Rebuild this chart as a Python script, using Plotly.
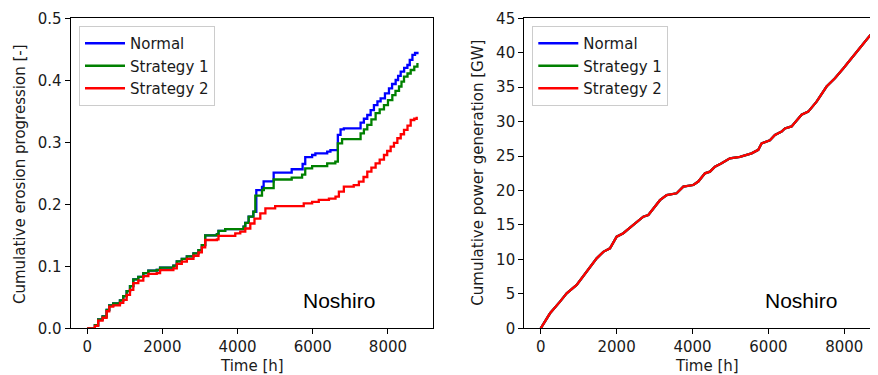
import plotly.graph_objects as go

# ---------------- data: cumulative erosion progression (left) ----------------
t_normal = [0, 205, 293, 410, 517, 587, 693, 872, 960, 1050, 1139, 1227, 1360, 1493, 1627,
            1850, 1939, 2293, 2384, 2517, 2651, 2827, 2960, 3050, 3139, 3451, 3493, 3670,
            4160, 4205, 4295, 4420, 4499, 4650, 4693, 4960, 5440, 5730, 5800, 5983, 6070,
            6384, 6470, 6667, 6739, 6827, 7272, 7360, 7450, 7540, 7627, 7720, 7805, 7920,
            8027, 8110, 8205, 8270, 8339, 8430, 8517, 8580, 8651, 8720, 8784]
v_normal = [0, 0.005, 0.0145, 0.019, 0.0295, 0.037, 0.040, 0.045, 0.052, 0.060, 0.068, 0.079,
            0.083, 0.089, 0.093, 0.094, 0.098, 0.101, 0.108, 0.112, 0.116, 0.121, 0.126, 0.134,
            0.150, 0.152, 0.157, 0.160, 0.164, 0.170, 0.180, 0.188, 0.223, 0.228, 0.237, 0.251,
            0.2565, 0.265, 0.276, 0.2795, 0.282, 0.285, 0.2875, 0.312, 0.321, 0.3226, 0.3317,
            0.338, 0.344, 0.352, 0.360, 0.366, 0.371, 0.379, 0.387, 0.394, 0.4005, 0.407, 0.414,
            0.420, 0.4247, 0.433, 0.441, 0.444, 0.446]

t_strat1 = [0, 205, 293, 410, 517, 587, 693, 872, 960, 1050, 1139, 1227, 1360, 1493, 1627,
            1850, 1939, 2293, 2384, 2517, 2651, 2827, 2960, 3050, 3139, 3451, 3493, 3670,
            4160, 4205, 4295, 4420, 4472, 4650, 4700, 4960, 5440, 5716, 5800, 5983, 6384,
            6600, 6667, 6780, 7272, 7360, 7450, 7560, 7672, 7780, 7894, 8000, 8116, 8200,
            8294, 8360, 8427, 8520, 8605, 8700, 8784]
v_strat1 = [0, 0.005, 0.0145, 0.019, 0.0295, 0.037, 0.040, 0.045, 0.052, 0.060, 0.068, 0.079,
            0.083, 0.089, 0.093, 0.094, 0.098, 0.101, 0.108, 0.112, 0.116, 0.121, 0.126, 0.134,
            0.150, 0.152, 0.157, 0.160, 0.164, 0.170, 0.180, 0.188, 0.214, 0.223, 0.226, 0.240,
            0.243, 0.248, 0.258, 0.2615, 0.266, 0.2687, 0.2984, 0.305, 0.3145, 0.321, 0.328,
            0.337, 0.347, 0.353, 0.360, 0.368, 0.376, 0.383, 0.390, 0.398, 0.406, 0.411, 0.4166,
            0.422, 0.428]

t_strat2 = [0, 205, 293, 410, 517, 587, 693, 872, 960, 1050, 1139, 1227, 1360, 1493, 1627,
            1850, 1939, 2293, 2384, 2517, 2651, 2827, 2960, 3050, 3139, 3451, 3493, 3939,
            4072, 4205, 4339, 4450, 4605, 4740, 5000, 5760, 5983, 6160, 6430, 6605, 6695,
            6827, 7090, 7227, 7350, 7450, 7560, 7672, 7780, 7894, 7980, 8072, 8160, 8250,
            8340, 8427, 8520, 8605, 8700, 8765]
v_strat2 = [0, 0.004, 0.0125, 0.017, 0.0275, 0.035, 0.037, 0.041, 0.046, 0.054, 0.062, 0.073,
            0.077, 0.084, 0.0877, 0.089, 0.0937, 0.0967, 0.104, 0.1075, 0.112, 0.117, 0.1225,
            0.1306, 0.1424, 0.1435, 0.149, 0.153, 0.156, 0.161, 0.169, 0.177, 0.1855, 0.1935,
            0.197, 0.2016, 0.204, 0.207, 0.209, 0.2123, 0.2203, 0.2284, 0.231, 0.2365, 0.244,
            0.2526, 0.259, 0.266, 0.272, 0.2795, 0.286, 0.293, 0.299, 0.3065, 0.313, 0.320,
            0.327, 0.336, 0.338, 0.3413]

# ---------------- data: cumulative power generation (right) ----------------
t_power = [0, 246, 509, 685, 948, 1212, 1475, 1650, 1826, 2002, 2177, 2441, 2704, 2836, 2968,
           3143, 3319, 3582, 3758, 4021, 4153, 4328, 4460, 4592, 4767, 4987, 5250, 5558, 5733,
           5821, 6040, 6172, 6348, 6435, 6611, 6874, 7050, 7270, 7533, 7753, 7972, 8148, 8367,
           8543, 8762]
p_power = [0, 2.18, 3.87, 5.08, 6.29, 8.2, 10.16, 11.1, 11.6, 13.3, 13.8, 15.0, 16.2, 16.45,
           17.4, 18.6, 19.35, 19.6, 20.56, 20.8, 21.3, 22.5, 22.74, 23.47, 23.95, 24.68, 24.9,
           25.4, 25.9, 26.85, 27.3, 28.06, 28.55, 29.0, 29.3, 31.0, 31.45, 32.9, 35.1, 36.3,
           37.7, 38.95, 40.4, 41.6, 43.06]

series_names = ["Normal", "Strategy 1", "Strategy 2"]
series_colors = ["#0000ff", "#008000", "#ff0000"]
erosion = [(t_normal, v_normal), (t_strat1, v_strat1), (t_strat2, v_strat2)]

x_ticks = [0, 2000, 4000, 6000, 8000]
y1_ticks = [0.0, 0.1, 0.2, 0.3, 0.4, 0.5]
y1_labels = ["0.0", "0.1", "0.2", "0.3", "0.4", "0.5"]
y2_ticks = [0, 5, 10, 15, 20, 25, 30, 35, 40, 45]

# the page body has an 8px margin, so the figure is 8px smaller and all
# positions below are given in page pixels and shifted by OFF
OFF = 8
W, H = 878 - OFF, 375 - OFF
FONT = "DejaVu Sans"
TXT = "#1a1a1a"


def px(x):
    return (x - OFF) / W


def py(y):
    return 1 - (y - OFF) / H


fig = go.Figure()
for i, (name, col, (tt, vv)) in enumerate(zip(series_names, series_colors, erosion)):
    fig.add_trace(go.Scatter(x=tt, y=vv, mode="lines", name=name, line=dict(color=col, width=2.3, shape="hv"),
                             xaxis="x", yaxis="y", legend="legend"))
for i, (name, col) in enumerate(zip(series_names, series_colors)):
    fig.add_trace(go.Scatter(x=t_power, y=p_power, mode="lines", name=name, line=dict(color=col, width=2.3),
                             xaxis="x2", yaxis="y2", legend="legend2"))

ydom = [py(328.3), py(18.3)]
axis_common = dict(showline=True, linecolor="black", linewidth=1.2, ticks="outside", ticklen=5,
                   tickwidth=1.2, tickcolor="black", showgrid=False, zeroline=False, automargin=False,
                   tickfont=dict(family=FONT, size=15, color=TXT))

leg_common = dict(xanchor="left", yanchor="top", bgcolor="rgba(255,255,255,0.8)",
                  bordercolor="#cccccc", borderwidth=1, font=dict(family=FONT, size=15, color=TXT),
                  itemwidth=40)

fig.update_layout(
    template="none",
    width=W, height=H, margin=dict(l=0, r=0, t=0, b=0, pad=0),
    paper_bgcolor="white", plot_bgcolor="white",
    font=dict(family=FONT, size=15, color=TXT),
    xaxis=dict(domain=[px(70.7), px(433)], range=[-438, 9198], tickvals=x_ticks, anchor="y",
               mirror=True, **axis_common),
    yaxis=dict(domain=ydom, range=[0, 0.5], tickvals=y1_ticks, ticktext=y1_labels, anchor="x",
               mirror=True, **axis_common),
    xaxis2=dict(domain=[px(524.3), 1.0], range=[-432, 8888], tickvals=x_ticks, anchor="y2",
                mirror=True, **axis_common),
    yaxis2=dict(domain=ydom, range=[0, 45], tickvals=y2_ticks, anchor="x2", mirror=False,
                **axis_common),
    legend=dict(x=px(79), y=py(26), **leg_common),
    legend2=dict(x=px(532.3), y=py(26), **leg_common),
    showlegend=True,
)

ann = []
for cx in (251.8, 707):
    ann.append(dict(text="Time [h]", x=px(cx), y=py(366), xref="paper", yref="paper",
                    xanchor="center", yanchor="middle", showarrow=False,
                    font=dict(family=FONT, size=15, color=TXT)))
ann.append(dict(text="Cumulative erosion progression [-]", x=px(20), y=py(174), xref="paper", yref="paper",
                xanchor="center", yanchor="middle", textangle=-90, showarrow=False,
                font=dict(family=FONT, size=15, color=TXT)))
ann.append(dict(text="Cumulative power generation [GW]", x=px(477.7), y=py(173), xref="paper", yref="paper",
                xanchor="center", yanchor="middle", textangle=-90, showarrow=False,
                font=dict(family=FONT, size=15, color=TXT)))
for cx in (339, 800.8):
    ann.append(dict(text="Noshiro", x=px(cx), y=py(300), xref="paper", yref="paper",
                    xanchor="center", yanchor="middle", showarrow=False,
                    font=dict(family="Liberation Sans", size=21, color="black")))
fig.update_layout(annotations=ann)

fig.write_html("out.html")
